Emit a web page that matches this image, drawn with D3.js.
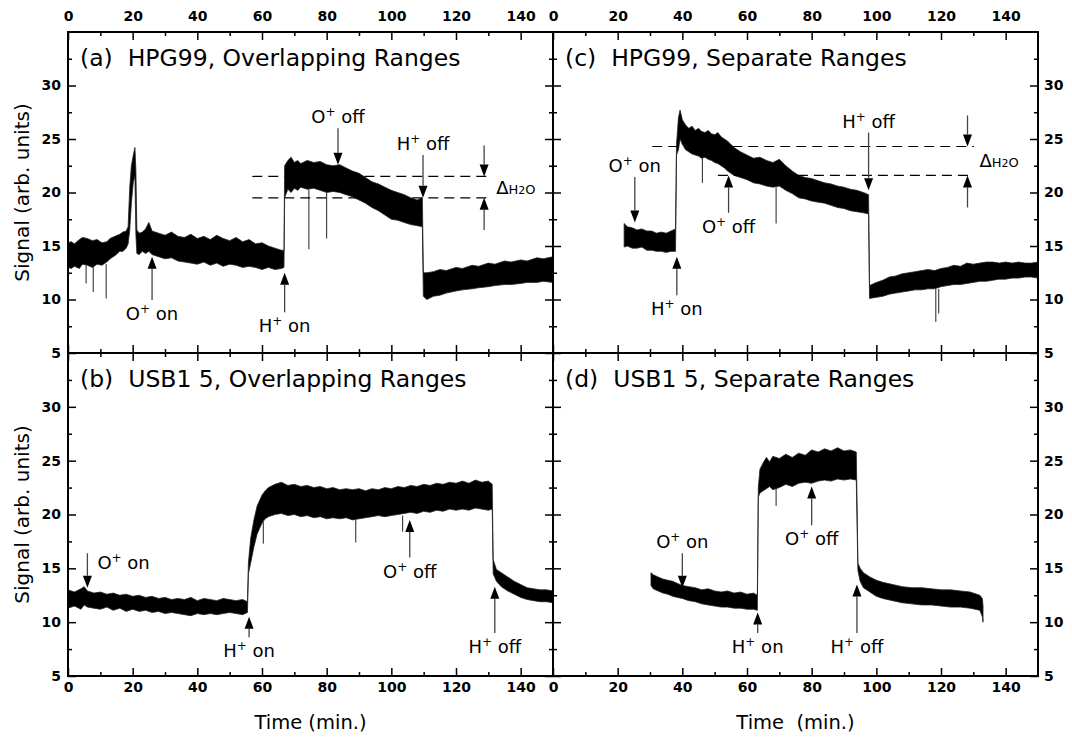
<!DOCTYPE html>
<html>
<head>
<meta charset="utf-8">
<script src="https://cdn.jsdelivr.net/npm/d3@7"></script>
<style>
  body { margin: 0; background: #fff; }
  svg { display: block; }
  text { font-family: "DejaVu Sans", sans-serif; }
</style>
</head>
<body>
<div id="chart"></div>
<script>
// axis ticks
var xMajor = [0, 20, 40, 60, 80, 100, 120, 140];
var xMinor = [10, 30, 50, 70, 90, 110, 130];
var yMajor = [5, 10, 15, 20, 25, 30];
var yMinor = [7.5, 12.5, 17.5, 22.5, 27.5, 32.5];

var titles = ["(a)  HPG99, Overlapping Ranges", "(b)  USB1 5, Overlapping Ranges",
              "(c)  HPG99, Separate Ranges", "(d)  USB1 5, Separate Ranges"];

// signal band: [time, lower edge, upper edge]
var traceA = [[0,13.0,15.3],[1,12.9,15.4],[2,13.1,15.2],[3.5,12.9,15.6],[4.5,13.3,15.8],[6,13.2,15.7],[7.5,13.0,15.5],[9,13.3,15.6],[10.5,13.2,15.3],[12,13.5,15.4],[13,13.8,15.7],[14.5,14.1,15.9],[16,14.5,16.1],[17,14.5,16.3],[18,14.8,16.4],[18.6,15.2,16.8],[19.1,16.5,20.5],[19.6,19.0,22.5],[20.2,21.0,23.5],[20.7,21.5,24.2],[21.0,16.0,22.0],[21.3,14.3,16.5],[22,14.2,16.2],[23,14.5,16.3],[24,14.3,16.6],[25,14.5,17.2],[26,14.2,16.4],[28,14.0,16.2],[30,13.8,16.0],[32,13.9,16.3],[34,13.6,15.9],[36,13.5,15.8],[38,13.4,16.1],[40,13.3,15.7],[42,13.5,15.9],[44,13.2,15.6],[46,13.4,16.0],[48,13.1,15.7],[50,13.3,15.5],[52,13.2,15.8],[54,13.0,15.4],[56,13.1,15.6],[58,13.0,15.2],[60,12.8,15.3],[62,13.0,15.0],[64,12.8,14.8],[66,12.9,14.6],[66.8,13.0,14.6],[67.0,19.5,22.5],[68,20.3,23.0],[69,20.0,23.3],[70,20.4,22.8],[71,20.2,23.0],[72,20.5,22.7],[74,20.3,23.0],[76,20.4,22.8],[78,20.2,22.9],[80,20.0,22.6],[82,20.1,22.5],[84,20.0,22.6],[86,19.8,22.3],[88,19.6,22.0],[90,19.3,21.8],[92,19.0,21.4],[94,18.6,21.0],[96,18.3,20.8],[98,17.9,20.5],[100,17.5,20.2],[102,17.4,20.0],[104,17.2,19.8],[106,17.0,19.5],[108,16.9,19.3],[109.6,16.8,19.5],[109.9,10.3,12.5],[111,10.0,12.5],[113,10.3,12.6],[115,10.4,12.8],[117,10.6,12.7],[120,10.8,13.0],[122,10.9,12.9],[125,11.0,13.2],[127,11.1,13.1],[130,11.2,13.4],[132,11.3,13.3],[135,11.4,13.6],[137,11.4,13.5],[140,11.5,13.7],[142,11.6,13.6],[145,11.6,13.9],[147,11.7,13.8],[150,11.6,14.0]];
var traceB = [[0,11.3,13.0],[2,11.5,12.8],[4,11.2,13.1],[5,11.6,13.3],[6,11.4,12.9],[8,11.3,12.7],[10,11.2,12.8],[12,11.4,12.6],[14,11.1,12.7],[16,11.3,12.5],[18,11.0,12.6],[20,11.2,12.4],[22,11.0,12.5],[24,11.1,12.3],[26,10.9,12.4],[28,11.0,12.2],[30,10.8,12.3],[32,10.9,12.1],[34,10.8,12.2],[36,10.7,12.1],[38,10.6,12.3],[40,10.8,12.0],[42,10.7,12.2],[44,10.8,12.1],[46,10.7,12.0],[48,10.8,12.2],[50,10.9,12.1],[52,10.8,12.0],[54,10.7,12.1],[55.5,10.9,11.9],[55.8,14.5,15.5],[56.5,15.5,17.8],[57.5,17.0,19.5],[58.5,18.2,20.8],[60,19.2,21.8],[61,19.6,22.2],[62,19.8,22.5],[64,20.0,22.8],[66,20.1,23.0],[68,19.9,22.7],[70,20.0,22.8],[72,19.8,22.6],[74,19.9,22.7],[76,19.7,22.5],[78,19.8,22.6],[80,19.6,22.4],[82,19.7,22.5],[84,19.6,22.3],[86,19.7,22.4],[88,19.5,22.3],[90,19.6,22.4],[92,19.7,22.2],[94,19.8,22.4],[96,19.9,22.3],[98,19.8,22.5],[100,19.9,22.4],[102,20.0,22.6],[104,20.1,22.5],[106,20.2,22.7],[108,20.1,22.6],[110,20.3,22.8],[112,20.2,22.7],[114,20.4,22.9],[116,20.3,22.8],[118,20.5,23.0],[120,20.4,22.9],[122,20.5,23.1],[124,20.4,22.9],[126,20.6,23.2],[128,20.5,23.0],[130,20.4,23.1],[131.2,20.5,22.8],[131.5,14.5,15.8],[132.5,13.8,14.9],[134,13.3,14.6],[136,12.9,14.2],[138,12.6,13.8],[140,12.3,13.5],[142,12.1,13.2],[144,12.0,13.1],[146,11.9,13.0],[148,11.9,13.0],[150,11.8,12.9]];
var traceC = [[22,14.9,17.1],[23,15.0,16.8],[24.5,14.8,16.7],[26,14.8,16.5],[27.5,14.9,16.6],[29,14.6,16.4],[30.5,14.6,16.4],[32,14.5,16.2],[33.5,14.5,16.3],[35,14.4,16.2],[36.5,14.5,16.4],[37.9,14.5,16.6],[38.2,23.5,24.5],[38.8,24.0,27.0],[39.3,25.0,27.7],[40,24.5,26.8],[41,24.0,26.3],[42,23.8,26.0],[43,23.6,26.2],[44,23.5,25.8],[45,23.4,26.0],[46,23.2,25.7],[47,23.3,25.6],[48,23.1,25.8],[49,23.0,25.5],[50,22.8,25.4],[51,22.7,25.6],[52,22.5,25.2],[53,22.3,25.0],[54,22.0,24.8],[55,21.8,24.5],[56,21.6,24.2],[58,21.4,23.8],[60,21.2,23.5],[62,20.9,23.2],[64,20.8,23.3],[66,20.6,23.0],[68,20.5,22.8],[70,20.6,23.1],[72,20.2,22.5],[74,19.9,22.0],[76,19.5,21.6],[78,19.4,21.4],[80,19.2,21.3],[82,19.1,21.1],[84,19.0,20.9],[86,18.8,20.8],[88,18.6,20.6],[90,18.5,20.5],[92,18.3,20.3],[94,18.2,20.2],[96,18.1,20.0],[97.6,18.0,19.8],[97.9,10.1,11.3],[100,10.2,11.6],[102,10.3,11.8],[104,10.5,12.1],[106,10.6,12.2],[108,10.7,12.4],[110,10.8,12.5],[112,10.9,12.6],[114,10.9,12.7],[116,11.0,12.8],[118,11.0,12.7],[120,11.2,12.9],[122,11.3,13.0],[124,11.4,13.2],[126,11.4,13.1],[128,11.5,13.4],[130,11.6,13.3],[132,11.7,13.4],[134,11.7,13.5],[136,11.8,13.5],[138,11.9,13.4],[140,11.9,13.5],[142,12.0,13.4],[144,12.0,13.5],[146,12.1,13.4],[148,12.1,13.4],[150,12.0,13.5]];
var traceD = [[30.3,13.4,14.6],[31,13.1,14.4],[32.5,12.9,14.2],[34,12.7,14.0],[35.5,12.6,13.9],[37,12.4,13.8],[38.5,12.3,13.6],[40,12.2,13.4],[42,12.0,13.3],[44,11.9,13.2],[46,11.7,13.0],[48,11.6,13.1],[50,11.5,12.9],[52,11.4,12.8],[54,11.4,12.9],[56,11.3,12.7],[58,11.3,12.8],[60,11.2,12.6],[62,11.2,12.7],[63.2,11.1,12.5],[63.5,21.6,22.5],[64,22.0,24.2],[65,22.2,24.8],[66,22.4,25.3],[67,22.6,24.9],[68,22.3,25.4],[70,22.5,25.2],[72,22.8,25.6],[74,22.6,25.3],[76,22.9,25.7],[78,23.0,25.5],[80,22.9,26.0],[82,23.1,25.8],[84,23.2,26.1],[86,23.1,25.9],[88,23.3,26.2],[90,23.2,25.9],[92,23.3,26.0],[93.8,23.2,25.8],[94.3,14.8,15.5],[95,13.8,15.0],[96,13.2,14.6],[98,12.8,14.2],[100,12.4,13.9],[102,12.2,13.7],[105,12.0,13.5],[108,11.8,13.3],[111,11.7,13.2],[114,11.6,13.2],[117,11.6,13.1],[120,11.5,13.0],[123,11.4,13.0],[126,11.4,12.9],[129,11.3,12.8],[132,11.1,12.5],[132.8,10.5,12.2],[133,10.0,11.5]];

// single-sample dropouts: [time, from, to]
var spikesA = [[5.6,13.2,11.5],[7.8,13.2,10.7],[11.8,13.3,10.1],[74.5,20.3,14.7],[80.0,20.0,15.7]];
var spikesB = [[60.4,19.3,17.3],[89,19.5,17.4],[103.5,19.9,18.4]];
var spikesC = [[46.2,23.2,20.9],[69,20.5,17.1],[118.4,11.0,7.9],[119.3,11.0,8.7]];
var spikesD = [[69,22.5,20.8]];

// beam events: [ion, state, time, arrow tail, arrow tip]
var eventsA = [["O","on",26,9.95,14.0],["H","on",67,8.8,12.5],["O","off",83.5,26.0,22.6],["H","off",109.8,23.5,19.5]];
var eventsB = [["O","on",6,16.4,13.2],["H","on",56,8.6,10.5],["O","off",105.7,16.0,19.5],["H","off",132,9.0,13.3]];
var eventsC = [["O","on",25.3,21.45,17.2],["H","on",38.3,10.4,14.0],["O","off",54.3,18.1,21.6],["H","off",97.6,25.6,20.2]];
var eventsD = [["O","on",40,16.4,13.2],["H","on",63.3,9.0,10.9],["O","off",80,19.0,22.6],["H","off",94,9.0,13.5]];

// reference levels [from time, to time, level] and the delta H2O arrows
var levelsA = [[57,131,21.5],[57,131,19.5]];
var levelsC = [[30.7,130.2,24.3],[51,130.2,21.6]];
var deltaA = {t: 128.7, upper: [24.4, 21.5], lower: [16.5, 19.5]};
var deltaC = {t: 128.2, upper: [27.2, 24.3], lower: [18.6, 21.6]};

var svg = d3.select("#chart").append("svg")
    .attr("width", 1072)
    .attr("height", 739);

var cols = [[68, 553], [553, 1038]];
var rows = [[32, 353], [353, 676]];

var panels = [
    {col: 0, row: 0, title: titles[0], trace: traceA, spikes: spikesA, events: eventsA, levels: levelsA, delta: deltaA},
    {col: 0, row: 1, title: titles[1], trace: traceB, spikes: spikesB, events: eventsB, levels: [], delta: null},
    {col: 1, row: 0, title: titles[2], trace: traceC, spikes: spikesC, events: eventsC, levels: levelsC, delta: deltaC},
    {col: 1, row: 1, title: titles[3], trace: traceD, spikes: spikesD, events: eventsD, levels: [], delta: null}
];

function side(g, axisFn, scale, transform, majors, minors, labels, pad) {
    g.append("g").attr("transform", transform)
        .call(axisFn(scale).tickValues(minors).tickSize(-4).tickSizeOuter(0).tickFormat(""));
    g.append("g").attr("transform", transform)
        .call(axisFn(scale).tickValues(majors).tickSize(-8).tickSizeOuter(0).tickPadding(pad)
            .tickFormat(labels ? d3.format("d") : ""));
}

function arrow(g, px, y0, y1) {
    var up = y1 < y0;
    var hb = y1 + (up ? 12 : -12);
    g.append("line")
        .attr("x1", px).attr("x2", px)
        .attr("y1", y0).attr("y2", hb)
        .attr("stroke", "#444")
        .attr("stroke-width", 1.3);
    g.append("path")
        .attr("d", "M" + px + "," + y1 + "L" + (px - 4.5) + "," + hb + "L" + (px + 4.5) + "," + hb + "Z")
        .attr("fill", "#000");
}

function drawPanel(p, i) {
    var x = d3.scaleLinear().domain([0, 150]).range(cols[p.col]);
    var y = d3.scaleLinear().domain([5, 35]).range([rows[p.row][1], rows[p.row][0]]);
    var g = svg.append("g");

    // signal band
    var area = d3.area()
        .x(function (d) { return x(d[0]); })
        .y0(function (d) { return y(d[1]); })
        .y1(function (d) { return y(d[2]); });
    g.append("path")
        .datum(p.trace)
        .attr("d", area)
        .attr("fill", "#000")
        .attr("stroke", "#222")
        .attr("stroke-width", 0.8);

    g.selectAll(".spike").data(p.spikes).enter().append("line")
        .attr("x1", function (d) { return x(d[0]); })
        .attr("x2", function (d) { return x(d[0]); })
        .attr("y1", function (d) { return y(d[1]); })
        .attr("y2", function (d) { return y(d[2]); })
        .attr("stroke", "#222")
        .attr("stroke-width", 1);

    // dashed reference levels
    g.selectAll(".level").data(p.levels).enter().append("line")
        .attr("x1", function (d) { return x(d[0]); })
        .attr("x2", function (d) { return x(d[1]); })
        .attr("y1", function (d) { return y(d[2]); })
        .attr("y2", function (d) { return y(d[2]); })
        .attr("stroke", "#000")
        .attr("stroke-width", 1.2)
        .attr("stroke-dasharray", "10,6");

    if (p.delta) {
        var dx = x(p.delta.t);
        arrow(g, dx, y(p.delta.upper[0]), y(p.delta.upper[1]));
        arrow(g, dx, y(p.delta.lower[0]), y(p.delta.lower[1]));
        var dl = g.append("text")
            .attr("x", dx + 12)
            .attr("y", y((p.delta.upper[1] + p.delta.lower[1]) / 2) + 6.5);
        dl.append("tspan").attr("font-size", 18).text("Δ");
        dl.append("tspan").attr("font-size", 13).text("H");
        dl.append("tspan").attr("font-size", 11).text("2");
        dl.append("tspan").attr("font-size", 13).text("O");
    }

    // beam on/off markers
    p.events.forEach(function (e, j) {
        var px = x(e[2]), y0 = y(e[3]), y1 = y(e[4]);
        arrow(g, px, y0, y1);
        var up = y1 < y0;
        var t = g.append("text").attr("font-size", 18);
        if (i === 1 && j === 0) {
            t.attr("x", px + 10).attr("y", y0 + 16).attr("text-anchor", "start");
        } else {
            t.attr("x", px).attr("y", up ? y0 + 20 : y0 - 5).attr("text-anchor", "middle");
        }
        t.append("tspan").text(e[0]);
        t.append("tspan").attr("font-size", 12).attr("dy", -7).text("+");
        t.append("tspan").attr("dy", 7).text(" " + e[1]);
    });

    // ticks on all four sides, pointing inward
    var x0 = cols[p.col][0], x1 = cols[p.col][1];
    var yt = rows[p.row][0], yb = rows[p.row][1];
    side(g, d3.axisTop, x, "translate(0," + yt + ")", xMajor, xMinor, p.row === 0, 11);
    side(g, d3.axisBottom, x, "translate(0," + yb + ")", xMajor, xMinor, p.row === 1, 6);
    side(g, d3.axisLeft, y, "translate(" + x0 + ",0)", yMajor, yMinor, p.col === 0, 7);
    side(g, d3.axisRight, y, "translate(" + x1 + ",0)", yMajor, yMinor, p.col === 1, 6);

    g.selectAll(".domain").remove();
    g.selectAll(".tick line").attr("stroke", "#000").attr("stroke-width", 1.5);
    g.selectAll(".tick text")
        .attr("font-family", "DejaVu Sans, sans-serif")
        .attr("font-size", 14)
        .attr("font-weight", "bold")
        .attr("fill", "#000");

    g.append("rect")
        .attr("x", x0).attr("y", yt)
        .attr("width", x1 - x0).attr("height", yb - yt)
        .attr("fill", "none")
        .attr("stroke", "#000")
        .attr("stroke-width", 2);

    g.append("text")
        .attr("x", x0 + 12)
        .attr("y", yt + 33.5)
        .attr("font-size", 23.5)
        .style("white-space", "pre")
        .text(p.title);

    if (p.col === 0) {
        g.append("text")
            .attr("transform", "translate(29," + ((yt + yb) / 2) + ") rotate(-90)")
            .attr("text-anchor", "middle")
            .attr("font-size", 20)
            .text("Signal (arb. units)");
    }
    if (p.row === 1) {
        g.append("text")
            .attr("x", (x0 + x1) / 2)
            .attr("y", 729)
            .attr("text-anchor", "middle")
            .attr("font-size", 19.5)
            .style("white-space", "pre")
            .text(p.col === 0 ? "Time (min.)" : "Time  (min.)");
    }
}

panels.forEach(drawPanel);
</script>
</body>
</html>
